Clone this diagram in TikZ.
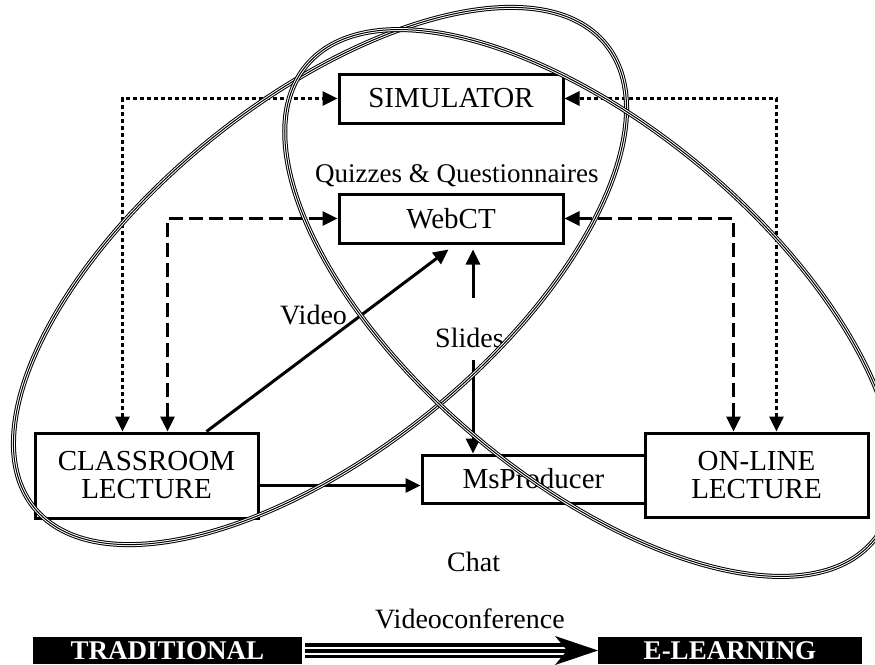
\documentclass[tikz,border=0pt]{standalone}
\usepackage{fontspec}
\setmainfont{Liberation Serif}
\usetikzlibrary{arrows.meta,calc}
\begin{document}
\begin{tikzpicture}[x=1pt,y=-1pt,
 box/.style={draw,line width=3pt,inner sep=0pt,align=center,font=\fontsize{29}{28}\selectfont},
 lbl/.style={inner sep=0pt,anchor=base west,font=\fontsize{28}{28}\selectfont},
 arr/.style={line width=3pt,-{Triangle[length=15pt,width=14pt]}},
 darr/.style={line width=3pt,{Triangle[length=15pt,width=14pt]}-{Triangle[length=15pt,width=14pt]}},
 dotl/.style={darr,dash pattern=on 4pt off 3pt},
 dashl/.style={darr,dash pattern=on 14pt off 6pt},
 triple/.style={line width=3pt,draw=white,preaction={draw=black,line width=5pt},postaction={draw=black,line width=1pt}},
 blk/.style={fill=black,text=white,inner sep=0pt,font=\bfseries\fontsize{27}{27}\selectfont}
]
\useasboundingbox (0,0) rectangle (875,664);

% boxes
\node[box,minimum width=224pt,minimum height=49pt] (sim) at (451,98.5) {SIMULATOR};
\node[box,minimum width=224pt,minimum height=49pt] (web) at (451,218.5) {WebCT};
\node[box,minimum width=223pt,minimum height=85pt] (cl) at (146.5,475.5) {CLASSROOM\\LECTURE};
\node[box,minimum width=223pt,minimum height=48pt] (ms) at (533.5,479) {MsProducer};
\node[box,minimum width=223pt,minimum height=84pt] (on) at (756.5,475) {ON-LINE\\LECTURE};

% labels
\node[lbl,font=\fontsize{27}{27}\selectfont] (quiz) at (315,182) {Quizzes \& Questionnaires};
\node[lbl] (video) at (280,324) {Video};
\node[lbl] (slides) at (435,347) {Slides};
\node[lbl] (chat) at (447,571) {Chat};
\node[lbl] (vconf) at (375,628) {Videoconference};

% dotted and dashed connectors
\draw[dotl] ([xshift=89pt]cl.north west) |- (sim.west);
\draw[dotl] ([xshift=133pt]on.north west) |- (sim.east);
\draw[dashl] ([xshift=134pt]cl.north west) |- (web.west);
\draw[dashl] ([xshift=90pt]on.north west) |- (web.east);

% solid connectors
\draw[arr] ([xshift=173pt]cl.north west) -- ([xshift=111pt,yshift=-5pt]web.south west);
\coordinate (sl1) at (473,298);
\coordinate (sl2) at (473,360);
\draw[arr,shorten >=5pt] (sl1) -- (sl1 |- web.south);
\draw[arr] (sl2) -- (sl2 |- ms.north);
\draw[arr] ([yshift=-10pt]cl.east) -- ([yshift=-10pt]cl.east -| ms.west);

% ellipses
\draw[triple] (320,276) ellipse [x radius=368pt, y radius=175pt, rotate=39];
\draw[triple] (590,303) ellipse [x radius=370pt, y radius=176pt, rotate=-40];

% bottom
\node[blk,minimum width=269pt,minimum height=27pt] (trad) at (167.5,650.5) {TRADITIONAL};
\node[blk,minimum width=264pt,minimum height=27pt] (el) at (730,650.5) {E-LEARNING};
\fill (305,643) rectangle (568,658);
\fill[white] (305,646.5) rectangle (568,648.5);
\fill[white] (305,652.5) rectangle (568,654.5);
\fill (598,650.5) -- (555,636) -- (567,650.5) -- (555,665) -- cycle;
\end{tikzpicture}
\end{document}
